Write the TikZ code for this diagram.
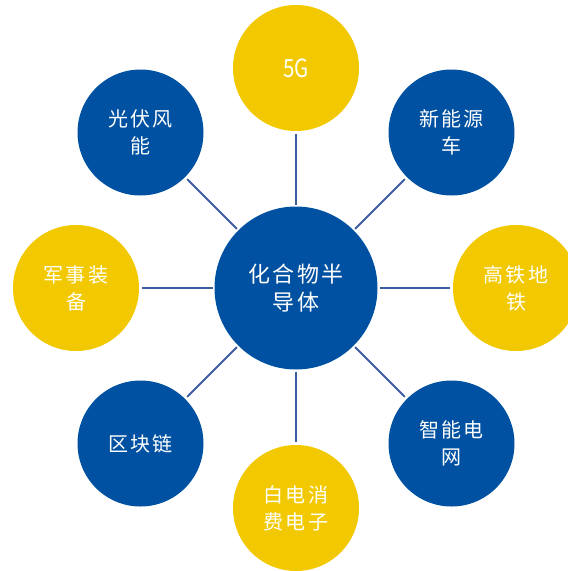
\documentclass[tikz,border=0pt]{standalone}
\usepackage{fontspec}
\usepackage{graphicx}
\newfontfamily\cjk{Noto Sans CJK SC}[LetterSpace=12]
\newfontfamily\cjkplain{Noto Sans CJK SC}
\definecolor{dblue}{RGB}{0,81,161}
\definecolor{dyellow}{RGB}{242,201,0}
\definecolor{lblue}{RGB}{62,92,160}
\begin{document}
\begin{tikzpicture}[x=1pt,y=-1pt,
  hub/.style={circle,fill=dblue,minimum size=163pt,inner sep=0pt,outer sep=2pt,
    text=white,align=center,font=\cjk\fontsize{22}{28}\selectfont},
  bluebub/.style={circle,fill=dblue,minimum size=126pt,inner sep=0pt,outer sep=3pt,
    text=white,align=center,font=\cjk\fontsize{20}{27}\selectfont},
  yelbub/.style={bluebub,fill=dyellow},
  link/.style={draw=lblue,line width=2pt}]
\useasboundingbox (0,0) rectangle (568,571);
\node[hub] (c) at (296,288) {化合物半\\导体};
\node[yelbub] (n) at (296,68) {\cjkplain\fontsize{25}{27}\selectfont\scalebox{0.82}[1]{5G}};
\node[bluebub] (ne) at (451.5,132.5) {新能源\\车};
\node[yelbub] (e) at (516,288) {高铁地\\铁};
\node[bluebub] (se) at (451.5,443.5) {智能电\\网};
\node[yelbub] (s) at (296,508) {白电消\\费电子};
\node[bluebub] (sw) at (140.5,443.5) {区块链};
\node[yelbub] (w) at (76,288) {军事装\\备};
\node[bluebub] (nw) at (140.5,132.5) {光伏风\\能};
\foreach \o in {n,ne,e,se,s,sw,w,nw}{\draw[link] (c) -- (\o);}
\end{tikzpicture}
\end{document}
